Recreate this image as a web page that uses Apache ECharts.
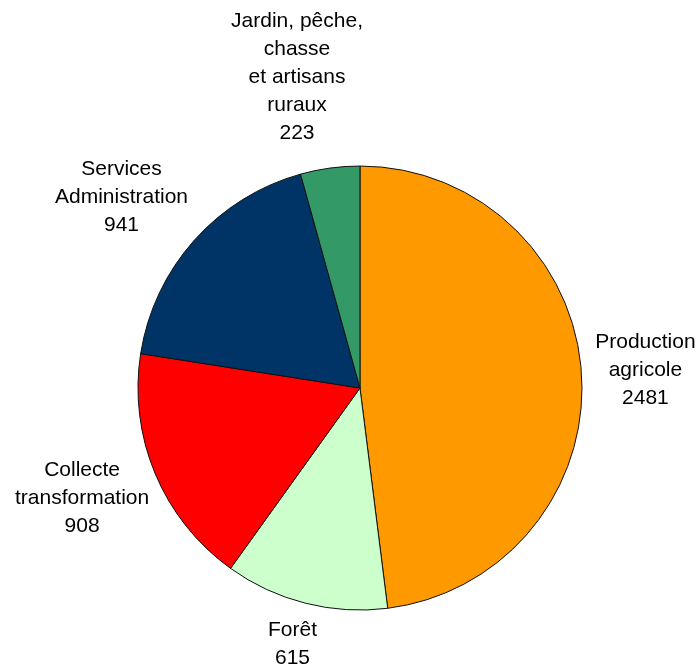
<!DOCTYPE html>
<html><head><meta charset="utf-8">
<script src="https://cdn.jsdelivr.net/npm/echarts@6/dist/echarts.min.js"></script>
<style>html,body{margin:0;padding:0;background:#fff}#c{width:699px;height:665px}</style>
</head><body><div id="c"></div>
<script>
const categories = ["Production\nagricole", "Forêt", "Collecte\ntransformation", "Services\nAdministration", "Jardin, pêche,\nchasse\net artisans\nruraux"];
const values = [2481, 615, 908, 941, 223];
const colors = ["#FF9900", "#CCFFCC", "#FF0000", "#003366", "#339966"];
const labelOffsets = [64, 44, 76, 84, 96];
const labelShiftX = [0, -2, -3, -10, -20];
const labelShiftY = [0, -2, -5, 13, 4];

const chart = echarts.init(document.getElementById('c'));
chart.setOption({
  animation: false,
  backgroundColor: '#fff',
  series: [{
    type: 'pie',
    center: ['51.5%', '58.35%'],
    radius: 222,
    startAngle: 90,
    clockwise: true,
    avoidLabelOverlap: false,
    data: categories.map((c, i) => ({ name: c, value: values[i], itemStyle: { color: colors[i] } })),
    itemStyle: { borderColor: '#111', borderWidth: 1 },
    label: {
      show: true,
      position: 'outside',
      formatter: p => p.name + '\n' + p.value,
      fontFamily: 'Liberation Sans, Arial, sans-serif',
      fontSize: 21,
      lineHeight: 28,
      color: '#000'
    },
    labelLine: { show: true, length: 10, length2: 0, lineStyle: { width: 0, opacity: 0 } },
    labelLayout: function (p) {
      const pts = p.labelLinePoints;
      if (!pts) return {};
      const dx = pts[1][0] - pts[0][0], dy = pts[1][1] - pts[0][1];
      const len = Math.sqrt(dx * dx + dy * dy) || 1;
      const i = p.dataIndex;
      const d = labelOffsets[i];
      return {
        x: pts[0][0] + dx / len * d + labelShiftX[i],
        y: pts[0][1] + dy / len * d + labelShiftY[i],
        align: 'center',
        verticalAlign: 'middle'
      };
    },
    emphasis: { disabled: true }
  }]
});
</script></body></html>
